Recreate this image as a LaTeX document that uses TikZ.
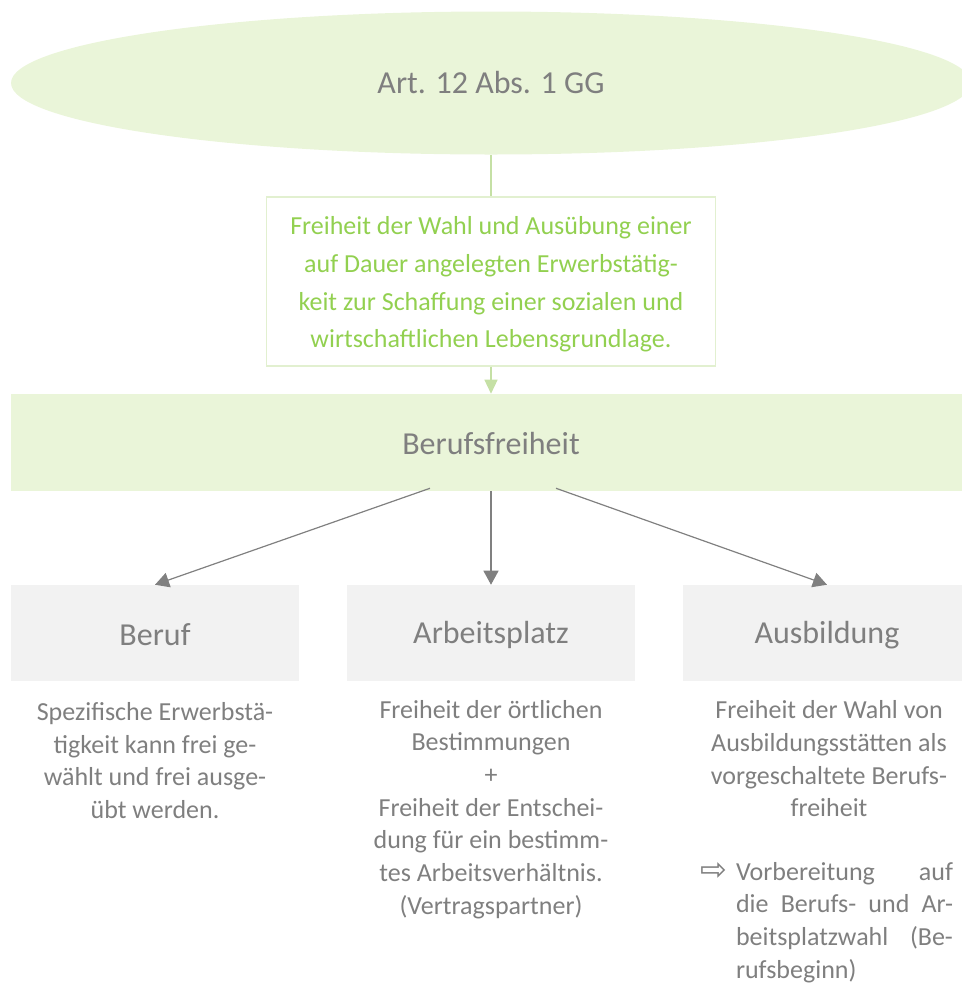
\documentclass[tikz,border=0pt]{standalone}
\usepackage{fontspec}
\setmainfont{Carlito}
\newfontfamily\symfont{DejaVu Sans}
\usetikzlibrary{shapes.geometric,arrows.meta}
\definecolor{txtgrey}{HTML}{7F7F7F}
\definecolor{lightgreen}{HTML}{EAF5D9}
\definecolor{textgreen}{HTML}{92D050}
\definecolor{framegreen}{HTML}{E2F0D0}
\definecolor{linkgreen}{HTML}{C5E0A5}
\definecolor{boxgrey}{HTML}{F2F2F2}
\definecolor{arrowgrey}{HTML}{808080}

\begin{document}
\begin{tikzpicture}[x=0.75pt,y=-0.75pt,
  head/.style={font=\fontsize{24}{29}\selectfont, text=txtgrey},
  body/.style={font=\fontsize{19.5}{24.5}\selectfont, text=txtgrey, align=center, inner sep=0pt},
  greybox/.style={fill=boxgrey, minimum width=216pt, minimum height=72pt, inner sep=0pt, head},
  greenlink/.style={draw=linkgreen, line width=0.9pt},
  greyarrow/.style={draw=arrowgrey, line width=0.9pt, -{Triangle[width=11.25pt,length=10.5pt,fill=arrowgrey]}}
]
\useasboundingbox (0,0) rectangle (962,983);
\clip (0,0) rectangle (962,983);

% top: the constitutional norm
\node[ellipse, fill=lightgreen, minimum width=720pt, minimum height=107.25pt, inner sep=0pt, head] (gg) at (491,83) {Art. 12 Abs. 1 GG};

% definition box
\node[draw=framegreen, line width=1pt, minimum width=336.75pt, minimum height=126.75pt, inner sep=0pt] (def) at (491,281.5) {};
\node[text=textgreen, font=\fontsize{19.5}{28.2}\selectfont, align=center, inner sep=0pt] (deftext) at (491,284.5)
  {Freiheit der Wahl und Ausübung einer\\auf Dauer angelegten Erwerbstätig-\\keit zur Schaffung einer sozialen und\\wirtschaftlichen Lebensgrundlage.};

% band
\node[fill=lightgreen, minimum width=723pt, minimum height=72.75pt, inner sep=0pt] (bf) at (493,442.5) {};
\node[head] (bftext) at (491,443.5) {Berufsfreiheit};

% three aspects
\node[greybox] (beruf) at (155,633) {};
\node[greybox] (arbeit) at (491,633) {};
\node[greybox] (ausb) at (827,633) {};
\node[head] (beruftext) at (155,635) {Beruf};
\node[head] (arbeittext) at (491,635) {Arbeitsplatz};
\node[head] (ausbtext) at (827,635) {Ausbildung};

% connectors
\draw[greenlink] (gg.south) -- (def.north);
\draw[greenlink, -{Triangle[width=9.75pt,length=10.5pt,fill=linkgreen]}] (def.south) -- (def.south |- bf.north);
\draw[greyarrow] ([xshift=-47.25pt,yshift=2.25pt]bf.south) -- (beruf.north);
\draw[greyarrow] (arbeit.north |- bf.south) -- (arbeit.north);
\draw[greyarrow] ([xshift=47.25pt,yshift=2.25pt]bf.south) -- (ausb.north);

% explanations
\node[body] (t1) at (155,760.5) {Spezifische Erwerbstä-\\tigkeit kann frei ge-\\wählt und frei ausge-\\übt werden.};
\node[body] (t2) at (491,809.5) {Freiheit der örtlichen\\Bestimmungen\\+\\Freiheit der Entschei-\\dung für ein bestimm-\\tes Arbeitsverhältnis.\\(Vertragspartner)};
\node[body] (t3) at (829,759) {Freiheit der Wahl von\\Ausbildungsstätten als\\vorgeschaltete Berufs-\\freiheit};
\node[font=\symfont\fontsize{24}{24}\selectfont, text=txtgrey, inner sep=0pt] (bullet) at (714,872) {⇨};
\node[font=\fontsize{19.5}{24.5}\selectfont, text=txtgrey, inner sep=0pt, text width=162.75pt] (prep) at (844.5,922.5)
  {\noindent Vorbereitung\hfill auf\\die\hfill Berufs-\hfill und\hfill Ar-\\beitsplatzwahl\hfill (Be-\\rufsbeginn)};
\end{tikzpicture}
\end{document}
